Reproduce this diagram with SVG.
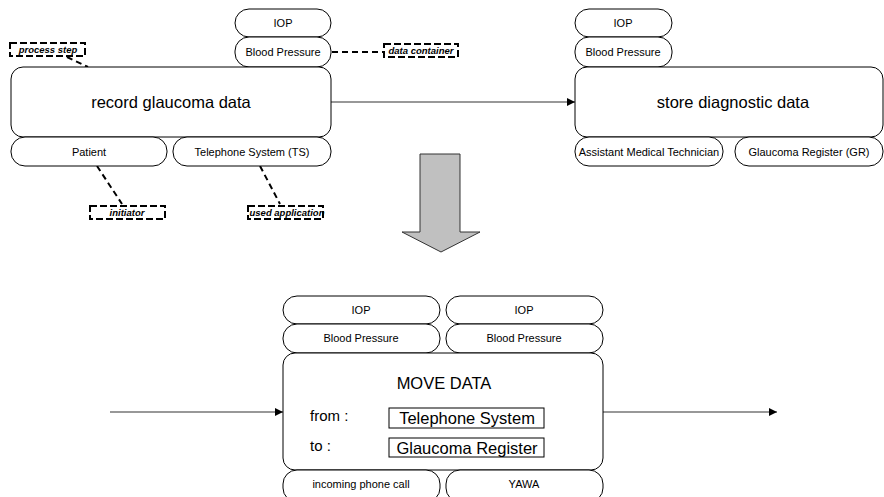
<svg xmlns="http://www.w3.org/2000/svg" width="884" height="497" viewBox="0 0 884 497">
<defs>
<style>
.pill{fill:#fff;stroke:#000;stroke-width:1}
.box{fill:#fff;stroke:#000;stroke-width:1}
.t{font-family:"Liberation Sans",Arial,sans-serif;fill:#000;text-anchor:middle}
.s{font-size:11px}
.b{font-size:16.5px}
.lbl{font-family:"Liberation Sans",Arial,sans-serif;font-size:9.5px;font-weight:bold;font-style:italic;fill:#000;text-anchor:middle}
.dbox{fill:#fff;stroke:#000;stroke-width:2;stroke-dasharray:7,3}
.dl{stroke:#000;stroke-width:2;stroke-dasharray:6,4;fill:none}
.conn{stroke:#333;stroke-width:1.2;fill:none;marker-end:url(#ah)}
</style>
<marker id="ah" viewBox="0 0 10 10" refX="10" refY="5" markerWidth="10" markerHeight="8" markerUnits="userSpaceOnUse" orient="auto">
<path d="M0,0 L10,5 L0,10 z" fill="#000"/>
</marker>
</defs>
<rect width="884" height="497" fill="#fff"/>

<g id="connectors">
<line class="conn" x1="331" y1="102" x2="575" y2="102"/>
<line class="conn" x1="110" y1="412" x2="283" y2="412"/>
<line class="conn" x1="603" y1="412" x2="777" y2="412"/>
<line class="dl" x1="67" y1="57" x2="88" y2="67"/>
<line class="dl" x1="332" y1="52" x2="383" y2="52"/>
<line class="dl" x1="97" y1="166" x2="122" y2="204"/>
<line class="dl" x1="260" y1="166" x2="280" y2="204"/>
</g>

<g id="transform-arrow">
<path d="M420,154 L460,154 L460,232 L480,232 L441,252 L402,232 L420,232 Z" fill="#c0c0c0" stroke="#333" stroke-width="1"/>
</g>

<g id="record">
<rect class="pill" x="235" y="9" width="96" height="28" rx="14"/>
<text class="t s" x="283" y="27">IOP</text>
<rect class="pill" x="235" y="37" width="96" height="30" rx="14"/>
<text class="t s" x="283" y="56">Blood Pressure</text>
<rect class="box" x="11" y="67" width="320" height="70" rx="12"/>
<text class="t b" x="171" y="108">record glaucoma data</text>
<rect class="pill" x="11" y="137" width="156" height="29" rx="14"/>
<text class="t s" x="89" y="156">Patient</text>
<rect class="pill" x="173" y="137" width="158" height="29" rx="14"/>
<text class="t s" x="252" y="156">Telephone System (TS)</text>
</g>

<g id="store">
<rect class="pill" x="575" y="9" width="97" height="28" rx="14"/>
<text class="t s" x="623" y="27">IOP</text>
<rect class="pill" x="575" y="37" width="97" height="30" rx="14"/>
<text class="t s" x="623" y="56">Blood Pressure</text>
<rect class="box" x="575" y="67" width="308" height="70" rx="12"/>
<text class="t b" x="733" y="108">store diagnostic data</text>
<rect class="pill" x="575" y="137" width="148" height="29" rx="14"/>
<text class="t s" x="649" y="156">Assistant Medical Technician</text>
<rect class="pill" x="735" y="137" width="148" height="29" rx="14"/>
<text class="t s" x="809" y="156">Glaucoma Register (GR)</text>
</g>

<g id="label-process-step">
<rect class="dbox" x="10" y="43" width="75" height="13"/>
<text class="lbl" x="48" y="53">process step</text>
</g>
<g id="label-data-container">
<rect class="dbox" x="384" y="44" width="74" height="13"/>
<text class="lbl" x="421" y="54">data container</text>
</g>
<g id="label-initiator">
<rect class="dbox" x="90" y="206" width="75" height="13"/>
<text class="lbl" x="127" y="216">initiator</text>
</g>
<g id="label-used-application">
<rect class="dbox" x="248" y="206" width="75" height="13"/>
<text class="lbl" x="287" y="216">used application</text>
</g>

<g id="move">
<rect class="pill" x="283" y="296" width="157" height="28" rx="14"/>
<text class="t s" x="361" y="314">IOP</text>
<rect class="pill" x="446" y="296" width="157" height="28" rx="14"/>
<text class="t s" x="524" y="314">IOP</text>
<rect class="pill" x="283" y="324" width="157" height="29" rx="14"/>
<text class="t s" x="361" y="342">Blood Pressure</text>
<rect class="pill" x="446" y="324" width="157" height="29" rx="14"/>
<text class="t s" x="524" y="342">Blood Pressure</text>
<rect class="box" x="283" y="353" width="320" height="117" rx="12"/>
<text class="t b" x="444" y="389">MOVE DATA</text>
<text x="310" y="421" font-family="Liberation Sans,Arial,sans-serif" font-size="15">from :</text>
<text x="310" y="451" font-family="Liberation Sans,Arial,sans-serif" font-size="15">to :</text>
<rect x="389" y="408" width="155" height="20" fill="#fff" stroke="#000" stroke-width="1"/>
<text class="t b" x="467" y="424">Telephone System</text>
<rect x="389" y="438" width="155" height="19" fill="#fff" stroke="#000" stroke-width="1"/>
<text class="t b" x="467" y="454">Glaucoma Register</text>
<rect class="pill" x="283" y="470" width="157" height="32" rx="14"/>
<text class="t s" x="361" y="488">incoming phone call</text>
<rect class="pill" x="446" y="470" width="157" height="32" rx="14"/>
<text class="t s" x="524" y="488">YAWA</text>
</g>
</svg>
